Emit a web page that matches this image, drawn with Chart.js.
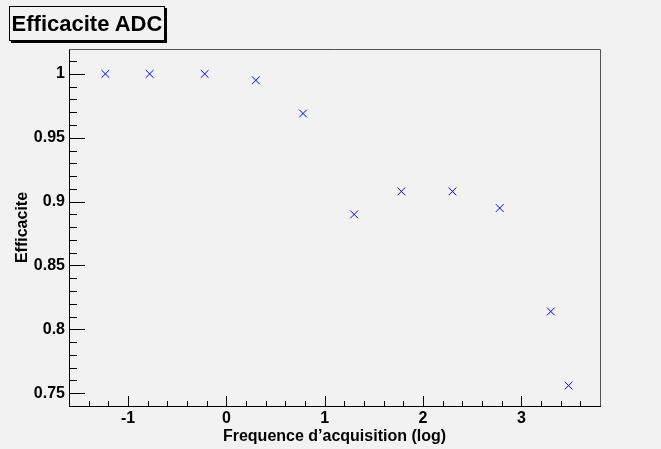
<!DOCTYPE html>
<html>
<head>
<meta charset="utf-8">
<script src="https://cdn.jsdelivr.net/npm/chart.js@4"></script>
<style>
  html, body { margin: 0; padding: 0; background: #f2f2f2; }
  #wrap { position: relative; width: 661px; height: 449px; }
  #titleBox {
    position: absolute; left: 9px; top: 6px; width: 154px; height: 33px;
    border: 1px solid #000; background: #f2f2f2;
    box-shadow: 2px 2px 0 #000;
    font: bold 22px "Liberation Sans", Arial, sans-serif;
    line-height: 33px; text-align: center; color: #000;
  }
</style>
</head>
<body>
<div id="wrap">
  <canvas id="chart" width="661" height="449"></canvas>
  <div id="titleBox">Efficacite ADC</div>
</div>
<script>
// log10 of acquisition frequency, and ADC efficiency
const freqLog = [-1.23, -0.78, -0.22, 0.30, 0.78, 1.30, 1.78, 2.30, 2.78, 3.30, 3.48];
const efficacite = [1.0, 1.0, 1.0, 0.995, 0.969, 0.890, 0.908, 0.908, 0.895, 0.814, 0.756];
const xMajor = [-1, 0, 1, 2, 3];
const yMajor = [0.75, 0.8, 0.85, 0.9, 0.95, 1];

const font = { family: '"Liberation Sans", Arial, sans-serif', size: 16, weight: 'bold' };

// ROOT style ticks drawn inside the frame
const insideTicks = {
  id: 'insideTicks',
  afterDraw(chart) {
    const ctx = chart.ctx;
    const xs = chart.scales.x, ys = chart.scales.y;
    const area = chart.chartArea;
    ctx.save();
    ctx.strokeStyle = '#000';
    ctx.lineWidth = 1;
    ctx.beginPath();
    for (let v = -1.4; v < xs.max; v += 0.2) {
      const r = Math.round(v * 10) / 10;
      const px = Math.round(xs.getPixelForValue(r)) + 0.5;
      const len = Number.isInteger(r) ? 10 : 5;
      ctx.moveTo(px, area.bottom);
      ctx.lineTo(px, area.bottom - len);
    }
    for (let v = 0.75; v < ys.max; v += 0.01) {
      const r = Math.round(v * 100) / 100;
      const py = Math.round(ys.getPixelForValue(r)) + 0.5;
      const len = (Math.round(r * 100) % 5 === 0) ? 16 : 8;
      ctx.moveTo(area.left, py);
      ctx.lineTo(area.left + len, py);
    }
    ctx.stroke();
    // frame top and right
    ctx.strokeStyle = '#555';
    ctx.beginPath();
    ctx.moveTo(area.left, area.top + 0.5);
    ctx.lineTo(area.right + 0.5, area.top + 0.5);
    ctx.lineTo(area.right + 0.5, area.bottom);
    ctx.stroke();
    ctx.restore();
  }
};

new Chart(document.getElementById('chart'), {
  type: 'scatter',
  data: {
    datasets: [{
      data: freqLog.map((x, i) => ({ x: x, y: efficacite[i] })),
      pointStyle: 'crossRot',
      pointRadius: 5.5,
      pointHoverRadius: 5.5,
      pointBorderColor: '#0000ff',
      pointHoverBorderColor: '#0000ff',
      pointBackgroundColor: '#0000ff',
      borderColor: '#0000ff',
      backgroundColor: '#0000ff',
      pointBorderWidth: 1,
      pointHoverBorderWidth: 1
    }]
  },
  options: {
    responsive: false,
    animation: false,
    events: [],
    layout: { padding: { top: 49, right: 61, left: 0, bottom: 0 } },
    plugins: { legend: { display: false }, tooltip: { enabled: false } },
    scales: {
      x: {
        type: 'linear', min: -1.6, max: 3.8,
        afterBuildTicks: s => { s.ticks = xMajor.map(v => ({ value: v })); },
        afterFit: s => { s.height = 43; },
        grid: { display: false, drawTicks: false },
        border: { display: true, color: '#000', width: 1 },
        ticks: { color: '#000', font: font, padding: 3, maxRotation: 0 },
        title: { display: true, text: 'Frequence d\u2019acquisition (log)', color: '#000', font: font, padding: { top: 0, bottom: 3 } }
      },
      y: {
        type: 'linear', min: 0.74, max: 1.0195,
        afterBuildTicks: s => { s.ticks = yMajor.map(v => ({ value: v })); },
        afterFit: s => { s.width = 69; },
        grid: { display: false, drawTicks: false },
        border: { display: true, color: '#000', width: 1 },
        ticks: { color: '#000', font: font, padding: 4, callback: v => String(+v.toFixed(2)) },
        title: { display: true, text: 'Efficacite', color: '#000', font: font, padding: { top: 13, bottom: 0 } }
      }
    }
  },
  plugins: [insideTicks]
});
</script>
</body>
</html>
